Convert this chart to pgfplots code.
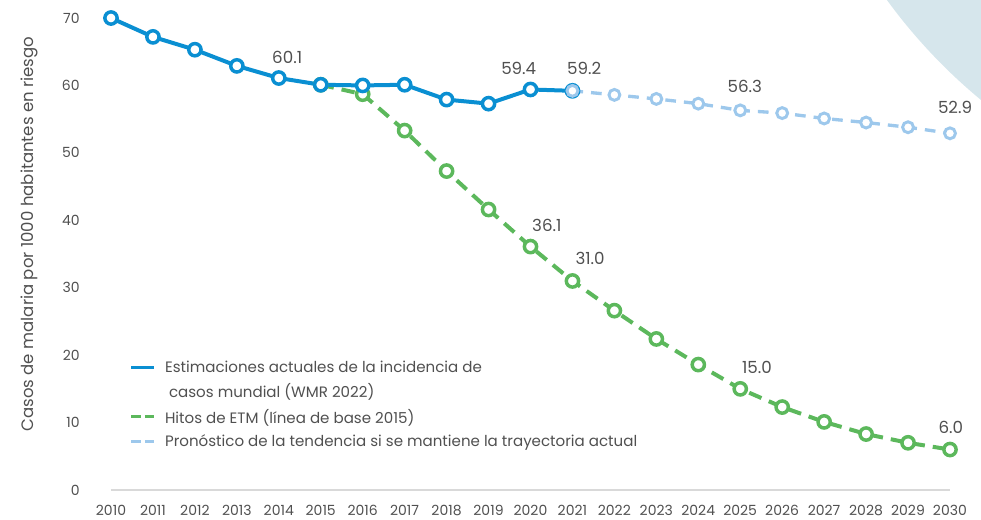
\documentclass[border=0pt]{standalone}
\usepackage{pgfplots}
\pgfplotsset{compat=1.18}
\usepackage{fontspec}
\setmainfont{Poppins}
\definecolor{cblue}{HTML}{0A8FD2}
\definecolor{cgreen}{HTML}{5CB85C}
\definecolor{clight}{HTML}{9DC8EC}
\definecolor{ctext}{HTML}{505050}
\definecolor{cbg}{HTML}{D6E6EC}
\begin{document}
\begin{tikzpicture}
\begin{axis}[
  scale only axis, width=629.25pt, height=354pt,
  xmin=2010, xmax=2030, ymin=0, ymax=70,
  clip=false,
  axis lines*=left,
  y axis line style={draw=none},
  x axis line style={draw=black!15, line width=0.8pt, -},
  major tick length=0pt,
  xtick={2010,...,2030}, ytick={0,10,...,70},
  /pgf/number format/1000 sep={},
  /pgf/number format/assume math mode=true,
  tick label style={font=\fontsize{10.5}{12}\selectfont, text=ctext},
  yticklabel style={xshift=-20pt},
  xticklabel style={yshift=-7.5pt},
  ylabel={Casos de malaria por 1000 habitantes en riesgo},
  ylabel style={font=\fontsize{12.4}{14}\selectfont, text=ctext, at={(axis description cs:0,0.5)}, anchor=center, yshift=61pt, xshift=15pt},
  legend style={draw=none, fill=none, at={(axis cs:2010.35,20)}, anchor=north west,
    font=\fontsize{11.3}{13}\selectfont, text=ctext, cells={anchor=west}, row sep=3pt, column sep=5pt},
  legend cell align=left,
]
\coordinate (O) at (axis cs:2010,0);
\addlegendimage{cblue, line width=2.25pt}
\addlegendentry{Estimaciones actuales de la incidencia de}
\addlegendimage{empty legend}
\addlegendentry{\hspace{3pt}casos mundial (WMR 2022)}
\addlegendimage{cgreen, line width=2.25pt, dash pattern=on 7pt off 3pt}
\addlegendentry{Hitos de ETM (línea de base 2015)}
\addlegendimage{clight, line width=2.25pt, dash pattern=on 7pt off 3pt}
\addlegendentry{Pronóstico de la tendencia si se mantiene la trayectoria actual}

% green milestones
\addplot[forget plot, cgreen, line width=3pt, dash pattern=on 10pt off 6pt,
  mark=*, mark size=4.6pt, mark options={solid, fill=white, line width=2.6pt}]
  coordinates {(2015,60.1)(2016,58.7)(2017,53.3)(2018,47.3)(2019,41.6)(2020,36.1)
  (2021,31.0)(2022,26.6)(2023,22.4)(2024,18.6)(2025,15.0)(2026,12.3)(2027,10.1)
  (2028,8.3)(2029,7.0)(2030,6.0)};
% current estimates
\addplot[forget plot, cblue, line width=3pt,
  mark=*, mark size=4.6pt, mark options={solid, fill=white, line width=2.6pt}]
  coordinates {(2010,70.0)(2011,67.2)(2012,65.3)(2013,62.9)(2014,61.1)(2015,60.1)
  (2016,60.0)(2017,60.1)(2018,57.9)(2019,57.3)(2020,59.4)(2021,59.2)};
% forecast
\addplot[forget plot, clight, line width=2.5pt, dash pattern=on 8pt off 6pt,
  mark=*, mark size=4.1pt, mark options={solid, fill=white, line width=2.2pt}]
  coordinates {(2021,59.2)(2022,58.6)(2023,58.0)(2024,57.3)(2025,56.3)(2026,55.9)
  (2027,55.1)(2028,54.5)(2029,53.8)(2030,52.9)};

\tikzset{lbl/.style={font=\fontsize{12.5}{14}\selectfont, text=ctext}}
\node[lbl] at (axis cs:2014.2,64.2) {60.1};
\node[lbl] at (axis cs:2019.72,62.5) {59.4};
\node[lbl] at (axis cs:2021.28,62.5) {59.2};
\node[lbl] at (axis cs:2020.39,39.3) {36.1};
\node[lbl] at (axis cs:2021.42,34.4) {31.0};
\node[lbl] at (axis cs:2025.11,59.8) {56.3};
\node[lbl] at (axis cs:2030.12,56.8) {52.9};
\node[lbl] at (axis cs:2025.4,18.2) {15.0};
\node[lbl] at (axis cs:2030.02,9.3) {6.0};
\end{axis}
\begin{scope}
\clip ([shift={(-83.25pt,-21.75pt)}]O) rectangle ([shift={(652.5pt,367.5pt)}]O);
\fill[cbg] ([shift={(914.25pt,609.4pt)}]O) circle (411pt);
\end{scope}
\pgfresetboundingbox
\path[use as bounding box] ([shift={(-83.25pt,-21.75pt)}]O) rectangle ([shift={(652.5pt,367.5pt)}]O);
\end{tikzpicture}
\end{document}
